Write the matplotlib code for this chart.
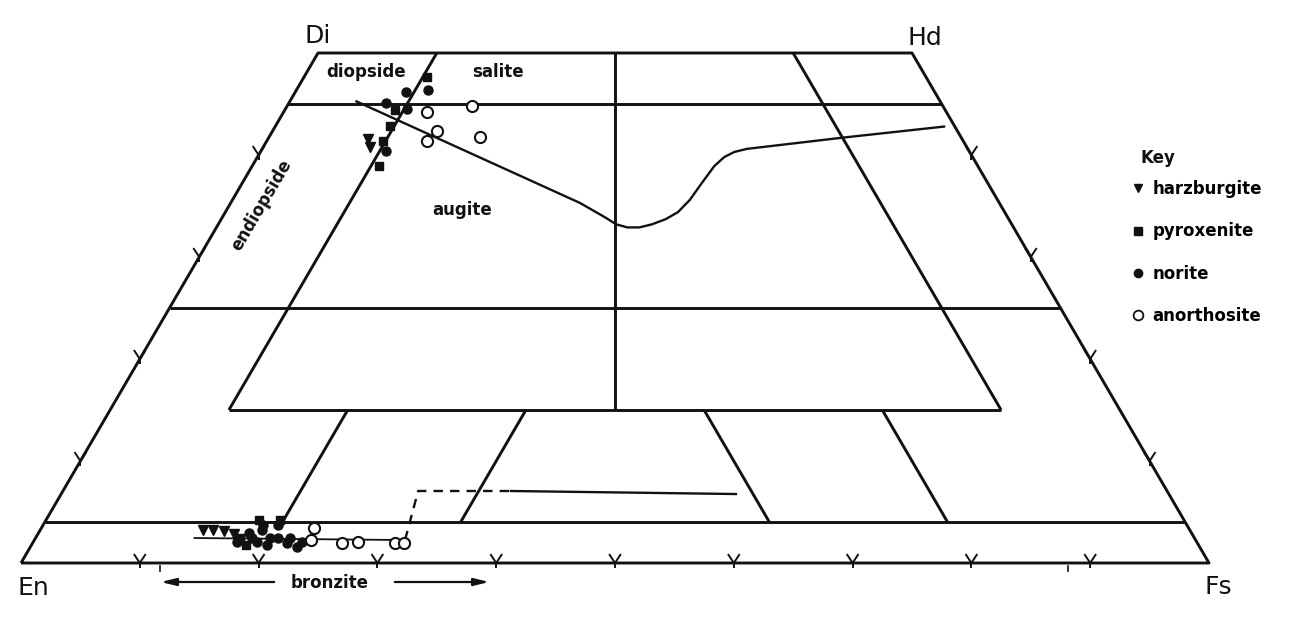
import numpy as np
import matplotlib
matplotlib.use("Agg")
import matplotlib.pyplot as plt
from matplotlib.lines import Line2D

# --- data, as (Fs %, Wo %) ---
harz_fs = [8.4, 9.0, 13.7, 14.6, 15.5, 16.5]
harz_wo = [41.6, 40.8, 3.2, 3.2, 3.1, 2.8]

pyrox_fs = [10.4, 9.3, 9.7, 9.8, 10.7, 17.9, 19.7, 17.2, 18.0]
pyrox_wo = [47.6, 44.4, 42.8, 41.4, 38.9, 4.2, 4.2, 2.5, 1.8]

norite_fs = [11.1, 9.3, 8.2, 10.2, 10.5, 17.7, 18.7, 19.8, 18.5, 19.7, 18.8, 19.8,
             20.4, 21.4, 21.4, 22.4, 22.6, 17.1, 18.2]
norite_wo = [46.4, 46.2, 45.1, 44.5, 40.4, 2.9, 3.2, 3.7, 3.7, 2.5, 2.1, 1.8,
             2.5, 2.0, 2.5, 1.6, 2.1, 2.1, 2.5]

anor_fs = [12.1, 15.6, 13.8, 13.5, 17.7, 23.0, 23.3, 26.0, 27.3, 30.5, 31.3]
anor_wo = [44.2, 44.8, 42.4, 41.4, 41.8, 3.4, 2.3, 1.96, 2.06, 1.96, 1.96]

# augite trend (Skaergaard-type curve)
aug_fs = [5.5, 29.4, 32.2, 33.5, 34.6, 35.6, 36.5, 37.4, 38.1, 38.5, 38.7,
          38.9, 39.3, 39.9, 40.8, 48.3, 56.4]
aug_wo = [45.3, 35.3, 33.9, 33.2, 32.9, 32.9, 33.2, 33.7, 34.4, 35.6, 37.4,
          38.9, 39.8, 40.3, 40.6, 41.7, 42.8]

# Ca-poor trend
opx_fs = [13.3, 31.2]
opx_wo = [2.45, 2.25]
pig_dash_fs = [31.2, 29.9, 37.6]
pig_dash_wo = [2.25, 7.06, 7.06]
pig_fs = [37.6, 56.9]
pig_wo = [7.06, 6.76]

tick_fs = [10, 20, 30, 40, 50, 60, 70, 80, 90]
tick_wo = [10, 20, 30, 40]

key_labels = ["harzburgite", "pyroxenite", "norite", "anorthosite"]


def xy(fs, wo):
    fs = np.asarray(fs, float)
    wo = np.asarray(wo, float)
    return fs + wo / 2.0, wo


def px(x, y):
    # pixel position of the reference -> data coords
    return (x - 21) / 11.88, (563 - y) / 10.2


fig = plt.figure(figsize=(12.97, 6.18), dpi=100)
ax = fig.add_axes([0, 0, 1, 1])
ax.set_xlim(-21 / 11.88, (1297 - 21) / 11.88)
ax.set_ylim(-(618 - 563) / 10.2, 563 / 10.2)
ax.axis("off")

lw = 2.1
k = "#111111"


def seg(fs, wo, **kw):
    x, y = xy(fs, wo)
    ax.plot(x, y, color=kw.pop("color", k), lw=kw.pop("lw", lw),
            solid_capstyle="butt", solid_joinstyle="round", **kw)


# outline
seg([0, 100, 50, 0, 0], [0, 0, 50, 50, 0])
# horizontal boundaries
seg([0, 55], [45, 45])
seg([0, 75], [25, 25])
seg([10, 75], [15, 15])
seg([0, 96], [4, 4])
# upper boundaries
seg([10, 10], [15, 50])
seg([42.5, 25], [15, 50])
seg([75, 40], [15, 50])
# pigeonite boundaries
seg([20, 20], [4, 15])
seg([35, 35], [4, 15])
seg([61, 50], [4, 15])
seg([76, 65], [4, 15])

# ticks on base
for f in tick_fs:
    x, y = xy(f, 0)
    ax.plot([x - 0.45, x, x + 0.45], [0.8, 0, 0.8], color=k, lw=1.4)
    ax.plot([x, x], [0, -0.35], color=k, lw=1.4)
for f in [11.7, 88.1]:
    x, y = xy(f, 0)
    ax.plot([x, x], [-0.3, -0.8], color=k, lw=1.2)

# ticks on the side edges
for w in tick_wo:
    xl, yl = xy(0, w)
    ax.plot([xl - 0.45, xl, xl + 0.45], [yl + 0.8, yl, yl + 0.8], color=k, lw=1.4)
    ax.plot([xl, xl], [yl, yl - 0.4], color=k, lw=1.4)
    xr, yr = xy(100 - w, w)
    ax.plot([xr - 0.45, xr, xr + 0.45], [yr + 0.8, yr, yr + 0.8], color=k, lw=1.4)
    ax.plot([xr, xr], [yr, yr - 0.4], color=k, lw=1.4)

# trends
seg(aug_fs, aug_wo, lw=1.7)
seg(opx_fs, opx_wo, lw=1.3)
seg(pig_dash_fs, pig_dash_wo, lw=1.7, ls=(0, (4, 3)))
seg(pig_fs, pig_wo, lw=1.7)

# samples
x, y = xy(harz_fs, harz_wo)
ax.plot(x, y, "v", color=k, ms=6.5, ls="none", zorder=5)
x, y = xy(pyrox_fs, pyrox_wo)
ax.plot(x, y, "s", color=k, ms=5.5, ls="none", zorder=5)
x, y = xy(norite_fs, norite_wo)
ax.plot(x, y, "o", color=k, ms=6.5, ls="none", zorder=5)
x, y = xy(anor_fs, anor_wo)
ax.plot(x, y, "o", mfc="white", mec=k, mew=1.5, ms=8, ls="none", zorder=6)

# labels
big = dict(fontsize=18, ha="center", va="center", color=k)
ax.text(*px(318, 36), "Di", **big)
ax.text(*px(925, 38), "Hd", **big)
ax.text(*px(33, 588), "En", **big)
ax.text(*px(1218, 587), "Fs", **big)

lab = dict(fontsize=12, fontweight="bold", ha="center", va="center", color=k)
ax.text(*px(366, 72), "diopside", **lab)
ax.text(*px(498, 72), "salite", **lab)
ax.text(*px(462, 210), "augite", **lab)
ax.text(*px(262, 205), "endiopside", rotation=59.5, **lab)
ax.text(*px(330, 583), "bronzite", **lab)
ax.annotate("", xy=px(158, 582), xytext=px(277, 582),
            arrowprops=dict(arrowstyle="-|>,head_length=0.9,head_width=0.22",
                            color=k, lw=1.6))
ax.annotate("", xy=px(492, 582), xytext=px(392, 582),
            arrowprops=dict(arrowstyle="-|>,head_length=0.9,head_width=0.22",
                            color=k, lw=1.6))

# key
ax.text(*px(1140, 158), "Key", fontsize=12, fontweight="bold",
        ha="left", va="center", color=k)
handles = [
    Line2D([], [], marker="v", color=k, ls="none", ms=6),
    Line2D([], [], marker="s", color=k, ls="none", ms=5.5),
    Line2D([], [], marker="o", color=k, ls="none", ms=6),
    Line2D([], [], marker="o", mfc="white", mec=k, mew=1.3, ls="none", ms=7),
]
ax.legend(handles, key_labels, loc="upper left",
          bbox_to_anchor=(1123 / 1297, 1 - 172 / 618),
          frameon=False, prop={"weight": "bold", "size": 12},
          borderpad=0, labelspacing=1.45, handlelength=0.8, handletextpad=0.45)

fig.savefig("out.png", dpi=100, facecolor="white")
